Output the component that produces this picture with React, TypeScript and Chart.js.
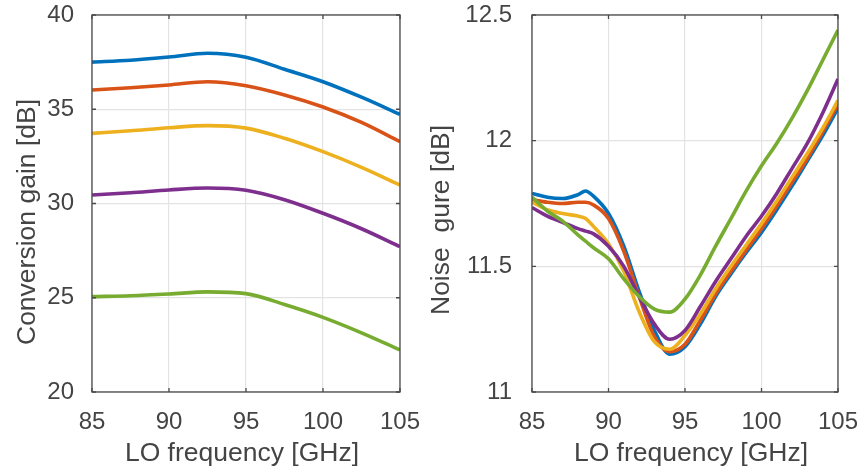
import React, { useEffect, useRef } from 'react';
import { Chart, registerables } from 'chart.js';

Chart.register(...registerables);

// ---------- data ----------
const gainFreq = [85, 87.5, 90, 92.5, 95, 97.5, 100, 102.5, 105];
const gainBlue = [37.5, 37.6, 37.77, 37.97, 37.76, 37.12, 36.46, 35.64, 34.73];
const gainRed = [36.02, 36.14, 36.29, 36.46, 36.25, 35.76, 35.12, 34.3, 33.28];
const gainYellow = [33.72, 33.86, 34.02, 34.13, 34.0, 33.46, 32.75, 31.92, 30.98];
const gainPurple = [30.45, 30.57, 30.72, 30.82, 30.7, 30.2, 29.48, 28.66, 27.71];
const gainGreen = [25.06, 25.11, 25.2, 25.31, 25.22, 24.64, 23.96, 23.14, 22.23];

const nfFreq = [85, 86, 87, 88, 88.5, 89, 90, 91, 92, 93, 94, 95, 96, 97, 98, 99, 100, 101, 102, 103, 104, 105];
const nfBlue = [11.79, 11.775, 11.77, 11.785, 11.8, 11.78, 11.71, 11.58, 11.4, 11.245, 11.15, 11.18, 11.27, 11.38, 11.47, 11.555, 11.635, 11.725, 11.82, 11.92, 12.02, 12.13];
const nfRed = [11.765, 11.755, 11.75, 11.755, 11.755, 11.745, 11.69, 11.56, 11.38, 11.22, 11.16, 11.19, 11.285, 11.39, 11.48, 11.565, 11.65, 11.74, 11.835, 11.93, 12.035, 12.145];
const nfYellow = [11.756, 11.725, 11.71, 11.7, 11.69, 11.66, 11.59, 11.48, 11.32, 11.2, 11.17, 11.225, 11.31, 11.41, 11.5, 11.585, 11.67, 11.76, 11.855, 11.95, 12.05, 12.16];
const nfPurple = [11.734, 11.7, 11.675, 11.65, 11.64, 11.63, 11.58, 11.5, 11.38, 11.27, 11.21, 11.245, 11.34, 11.44, 11.53, 11.62, 11.7, 11.79, 11.89, 11.99, 12.11, 12.245];
const nfGreen = [11.776, 11.72, 11.68, 11.625, 11.6, 11.575, 11.53, 11.45, 11.38, 11.33, 11.318, 11.37, 11.465, 11.58, 11.69, 11.8, 11.9, 11.99, 12.09, 12.2, 12.32, 12.44];

const xTicks = [85, 90, 95, 100, 105];
const gainTicks = [20, 25, 30, 35, 40];
const nfTicks = [11, 11.5, 12, 12.5];

const seriesColors = ['#0072BD', '#D95319', '#EDB120', '#7E2F8E', '#77AC30'];

const xTitle = 'LO frequency [GHz]';
const gainTitle = 'Conversion gain [dB]';
const nfTitle = 'Noise  gure [dB]';

// ---------- styling ----------
const FONT = '"Liberation Sans", Arial, Helvetica, sans-serif';
const TEXT = '#444444';
const AXIS = '#4a4a4a';
const GRID = '#e3e3e3';

type PanelProps = {
  left: number;
  width: number;
  xs: number[];
  series: number[][];
  yMin: number;
  yMax: number;
  yTicks: number[];
  yTitle: string;
  yAxisWidth: number;
  padRight: number;
  yTickPad: number;
  yTitleX: number;
  yTitleY: number;
  xTitleX: number;
};

function Panel(p: PanelProps) {
  const ref = useRef<HTMLCanvasElement | null>(null);
  useEffect(() => {
    if (!ref.current) return;
    const titlePlugin = {
      id: 'titlesAndFrame',
      afterDraw(chart: any) {
        const { ctx, chartArea } = chart;
        const { left, right, top, bottom } = chartArea;
        ctx.save();
        ctx.strokeStyle = AXIS;
        ctx.lineWidth = 1.3;
        ctx.strokeRect(left, top, right - left, bottom - top);
        const xs = chart.scales.x;
        const ys = chart.scales.y;
        const tl = 4;
        ctx.beginPath();
        xTicks.forEach((v) => {
          const px = xs.getPixelForValue(v);
          ctx.moveTo(px, bottom);
          ctx.lineTo(px, bottom - tl);
          ctx.moveTo(px, top);
          ctx.lineTo(px, top + tl);
        });
        p.yTicks.forEach((v) => {
          const py = ys.getPixelForValue(v);
          ctx.moveTo(left, py);
          ctx.lineTo(left + tl, py);
          ctx.moveTo(right, py);
          ctx.lineTo(right - tl, py);
        });
        ctx.stroke();
        ctx.fillStyle = TEXT;
        ctx.font = `26.5px ${FONT}`;
        ctx.textAlign = 'center';
        ctx.textBaseline = 'alphabetic';
        ctx.fillText(xTitle, p.xTitleX, 461);
        ctx.translate(p.yTitleX, p.yTitleY);
        ctx.rotate(-Math.PI / 2);
        ctx.fillText(p.yTitle, 0, 0);
        ctx.restore();
      },
    };
    const chart = new Chart(ref.current, {
      type: 'line',
      data: {
        datasets: p.series.map((s, i) => ({
          data: s.map((v, j) => ({ x: p.xs[j], y: v })),
          borderColor: seriesColors[i],
          backgroundColor: seriesColors[i],
          borderWidth: 3.6,
          pointRadius: 0,
          fill: false,
          cubicInterpolationMode: 'monotone' as const,
          order: 10 - i,
        })),
      },
      options: {
        animation: false,
        responsive: false,
        devicePixelRatio: 1,
        layout: { padding: { left: 0, right: p.padRight, top: 15, bottom: 0 } },
        plugins: { legend: { display: false }, tooltip: { enabled: false }, title: { display: false } },
        scales: {
          x: {
            type: 'linear',
            min: 85,
            max: 105,
            afterBuildTicks: (s: any) => {
              s.ticks = xTicks.map((v) => ({ value: v }));
            },
            afterFit: (s: any) => {
              s.height = 77;
              s.paddingLeft = 0;
              s.paddingRight = 0;
            },
            ticks: {
              autoSkip: false,
              maxRotation: 0,
              padding: 16,
              color: TEXT,
              font: { family: FONT, size: 24 },
              callback: (v: any) => String(v),
            },
            grid: { color: GRID, lineWidth: 1.2, drawTicks: false },
            border: { display: false },
          },
          y: {
            type: 'linear',
            min: p.yMin,
            max: p.yMax,
            afterBuildTicks: (s: any) => {
              s.ticks = p.yTicks.map((v) => ({ value: v }));
            },
            afterFit: (s: any) => {
              s.width = p.yAxisWidth;
              s.paddingTop = 0;
              s.paddingBottom = 0;
            },
            ticks: {
              autoSkip: false,
              padding: p.yTickPad,
              color: TEXT,
              font: { family: FONT, size: 24 },
              callback: (v: any) => String(v),
            },
            grid: { color: GRID, lineWidth: 1.2, drawTicks: false },
            border: { display: false },
          },
        },
      },
      plugins: [titlePlugin],
    } as any);
    return () => chart.destroy();
  }, []);
  return (
    <canvas
      ref={ref}
      width={p.width}
      height={469}
      style={{ position: 'absolute', left: p.left, top: 0, width: p.width, height: 469 }}
    />
  );
}

export default function App() {
  return (
    <div style={{ position: 'fixed', left: 0, top: 0, width: 857, height: 469, background: '#ffffff', overflow: 'hidden' }}>
      <Panel
        left={0}
        width={420}
        xs={gainFreq}
        series={[gainBlue, gainRed, gainYellow, gainPurple, gainGreen]}
        yMin={20}
        yMax={40}
        yTicks={gainTicks}
        yTitle={gainTitle}
        yAxisWidth={92}
        padRight={20}
        yTickPad={18}
        yTitleX={35}
        yTitleY={222}
        xTitleX={242}
      />
      <Panel
        left={420}
        width={437}
        xs={nfFreq}
        series={[nfBlue, nfRed, nfYellow, nfPurple, nfGreen]}
        yMin={11}
        yMax={12.5}
        yTicks={nfTicks}
        yTitle={nfTitle}
        yAxisWidth={112}
        padRight={19}
        yTickPad={20}
        yTitleX={29}
        yTitleY={220}
        xTitleX={271}
      />
    </div>
  );
}
